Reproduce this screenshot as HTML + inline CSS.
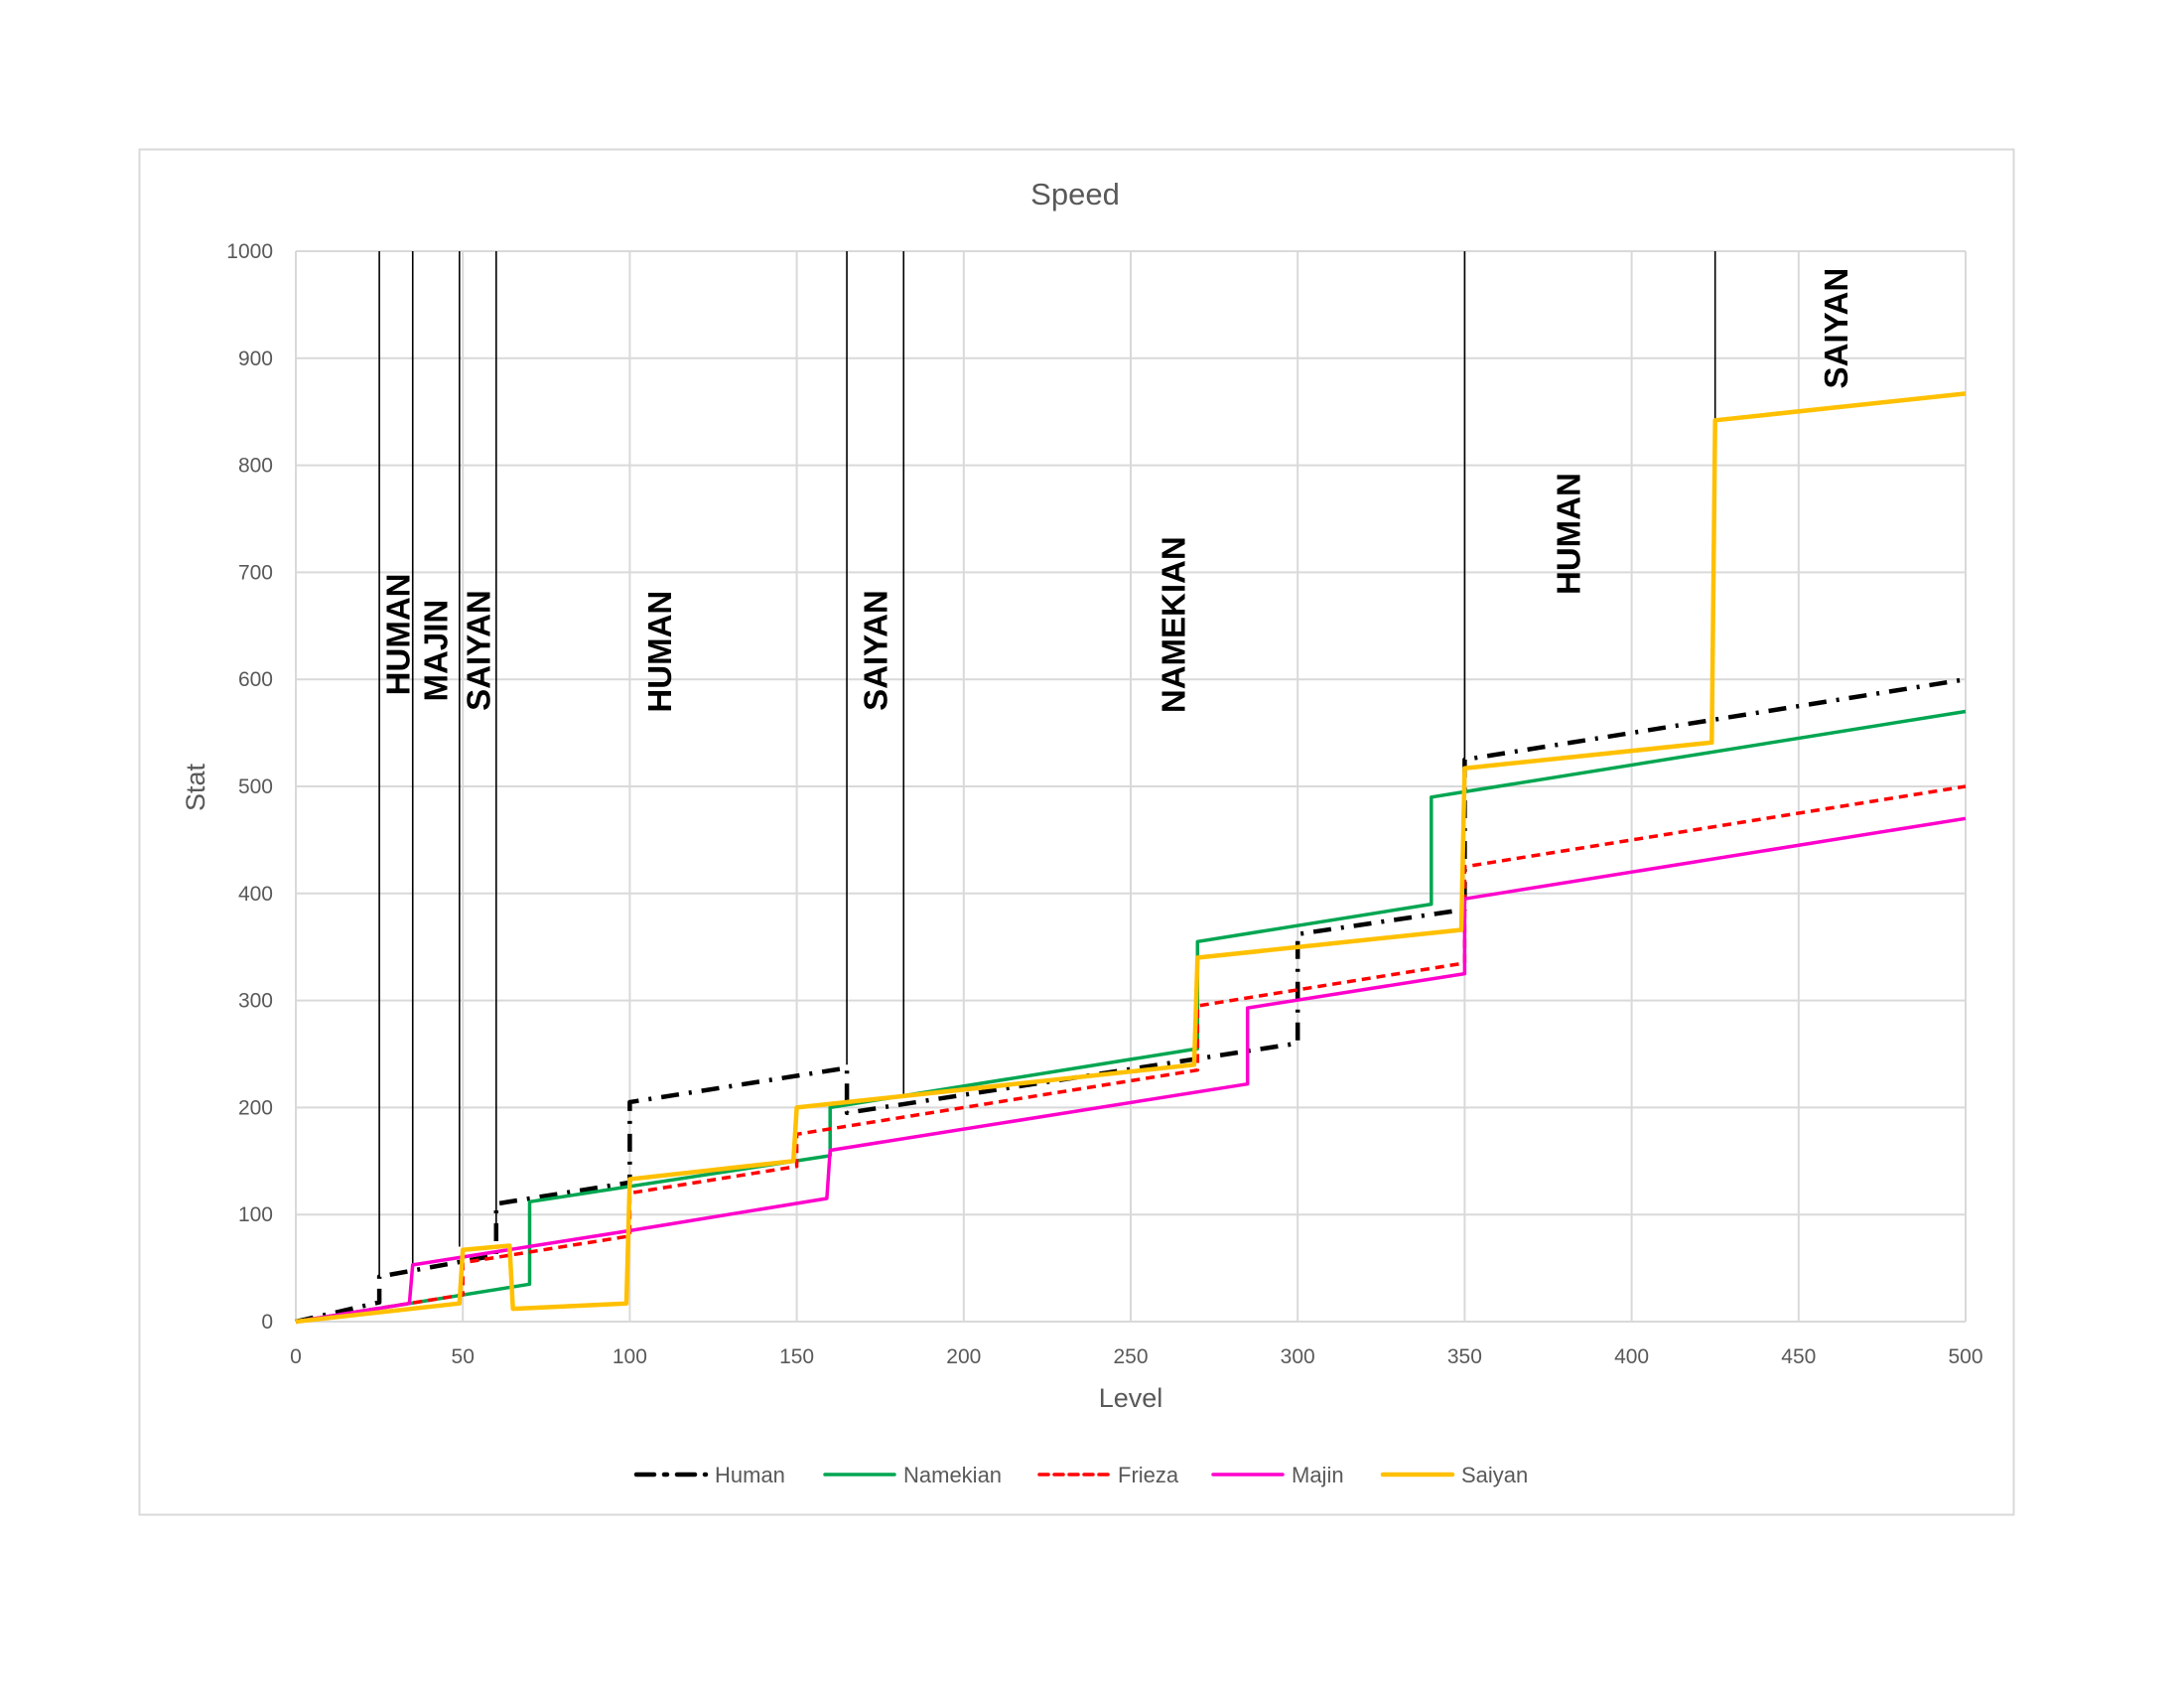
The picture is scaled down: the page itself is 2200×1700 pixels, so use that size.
<!DOCTYPE html>
<html><head><meta charset="utf-8"><style>
html,body{margin:0;padding:0;background:#fff;}
svg{display:block;font-family:"Liberation Sans",sans-serif;}
</style></head><body>
<svg id="chart" width="2200" height="1700" viewBox="0 0 2200 1700" xmlns="http://www.w3.org/2000/svg">
<rect x="140.5" y="150.5" width="1888" height="1375" fill="#fff" stroke="#d9d9d9" stroke-width="2"/>
<text x="1083" y="206" font-size="31" fill="#595959" text-anchor="middle">Speed</text>
<text x="1139" y="1417" font-size="27" fill="#595959" text-anchor="middle">Level</text>
<text transform="translate(206,793) rotate(-90)" font-size="27" fill="#595959" text-anchor="middle">Stat</text>
<g id="grid"></g><g id="ann"></g><g id="series"></g><g id="ticks"></g><g id="legend"></g>
</svg>
<script>
const xTicks=[0,50,100,150,200,250,300,350,400,450,500];
const yTicks=[0,100,200,300,400,500,600,700,800,900,1000];
const seriesNames=["Human","Namekian","Frieza","Majin","Saiyan"];
const humanX=[0,25,25,60,60,100,100,165,165,300,300,350,350,500];
const humanY=[0,18,42,62,110,130,205,237,195,260,362,385,525,600];
const namekianX=[0,70,70,160,160,270,270,340,340,350,500];
const namekianY=[0,35,112,155,200,255,355,390,490,495,570];
const friezaX=[0,50,50,100,100,150,150,270,270,350,350,500];
const friezaY=[0,25,55,80,120,145,175,235,295,335,425,500];
const majinX=[0,34,35,100,159,160,285,285,350,350,500];
const majinY=[0,17,53,85,115,160,222,293,325,395,470];
const saiyanX=[0,49,50,64,65,99,100,149,150,269,270,349,350,424,425,500];
const saiyanY=[0,17,67,71,12,17,133,150,200,240,340,366,517,541,842,867];
const annX=[25,35,49,60,165,182,350,425];
const annBottom=[42,52,70,78,240,212,525,842];
const labelText=["HUMAN","MAJIN","SAIYAN","HUMAN","SAIYAN","NAMEKIAN","HUMAN","SAIYAN"];
const labelX=[30.4,41.7,54.6,108.8,173.5,262.7,381,461];
const labelY=[642,627,627,626,627,651,736,928];

const NS="http://www.w3.org/2000/svg";
const X0=298,X1=1980,Y0=1331,Y1=253;
const sx=v=>X0+(X1-X0)*v/500;
const sy=v=>Y0-(Y0-Y1)*v/1000;
function mk(tag,attrs,parent){const e=document.createElementNS(NS,tag);for(const k in attrs)e.setAttribute(k,attrs[k]);parent.appendChild(e);return e;}
const grid=document.getElementById('grid'),ticks=document.getElementById('ticks');
xTicks.forEach(t=>{
  const l=mk('line',{x1:sx(t),x2:sx(t),y1:Y1,y2:Y0,stroke:'#d9d9d9','stroke-width':2},grid);
  
  
  const tx=mk('text',{x:sx(t),y:1373,'font-size':21,fill:'#595959','text-anchor':'middle'},ticks);
  tx.textContent=t;
  
  
});
yTicks.forEach(t=>{
  const l=mk('line',{x1:X0,x2:X1,y1:sy(t),y2:sy(t),stroke:'#d9d9d9','stroke-width':2},grid);
  
  
  const tx=mk('text',{x:275,y:sy(t)+7,'font-size':21,fill:'#595959','text-anchor':'end'},ticks);
  tx.textContent=t;
  
  
});
const ann=document.getElementById('ann');
annX.forEach((a,i)=>{
  const l=mk('line',{x1:sx(a),x2:sx(a),y1:Y1,y2:sy(annBottom[i]),stroke:'#000','stroke-width':1.6},ann);
  
  
});
labelText.forEach((t,i)=>{
  const tx=mk('text',{transform:`translate(${sx(labelX[i])+12},${sy(labelY[i])}) rotate(-90)`,'font-size':33,'font-weight':'bold',fill:'#000','text-anchor':'middle','font-family':'"Liberation Sans Narrow","Liberation Sans",sans-serif'},ann);
  tx.textContent=t;
  
  
});
const styles=[
 {c:'#000',w:4.5,d:'18 10 3 10'},
 {c:'#00a651',w:3.5,d:''},
 {c:'#ff0000',w:3.5,d:'9 6'},
 {c:'#ff00cc',w:3.5,d:''},
 {c:'#ffc000',w:4.5,d:''}];
const data=[[humanX,humanY],[namekianX,namekianY],[friezaX,friezaY],[majinX,majinY],[saiyanX,saiyanY]];
const order=[0,1,2,3,4];
const sg=document.getElementById('series');
order.forEach(i=>{
  const [xs,ys]=data[i];
  const pts=xs.map((x,j)=>sx(x).toFixed(1)+','+sy(ys[j]).toFixed(1)).join(' ');
  const p=mk('polyline',{points:pts,fill:'none',stroke:styles[i].c,'stroke-width':styles[i].w,'stroke-dasharray':styles[i].d,'stroke-linejoin':'round'},sg);
  
  
});
const lg=document.getElementById('legend');
const lgX=[641,831,1047,1222,1393];
seriesNames.forEach((n,i)=>{
  const g=mk('g',{},lg);
  
  
  mk('line',{x1:lgX[i],x2:lgX[i]+70,y1:1485,y2:1485,stroke:styles[i].c,'stroke-width':styles[i].w,'stroke-dasharray':styles[i].d,'stroke-linecap':'round'},g);
  const t=mk('text',{x:lgX[i]+79,y:1493,'font-size':22,fill:'#595959'},g);
  t.textContent=n;
});
</script>
</body></html>
